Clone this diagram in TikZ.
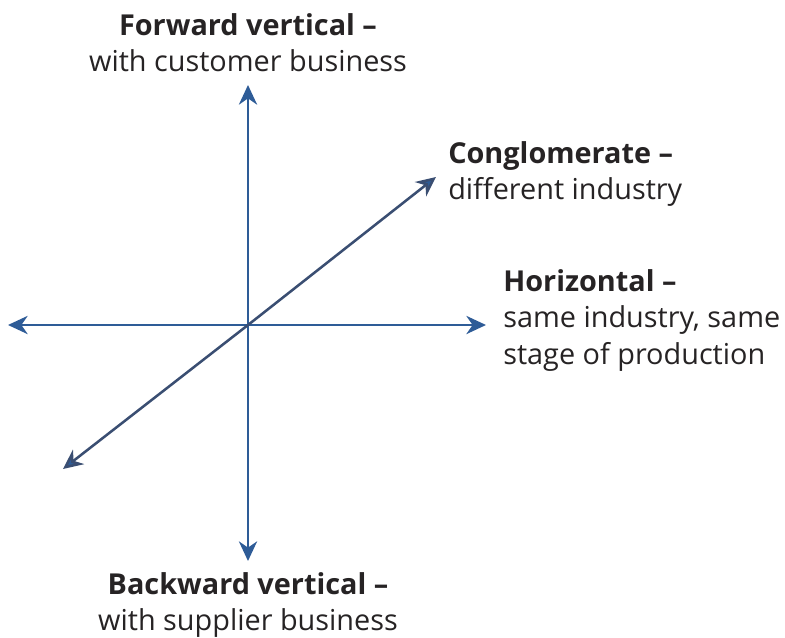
\documentclass[tikz,border=0pt]{standalone}
\usepackage{fontspec}
\setmainfont{Open Sans}
\usetikzlibrary{arrows.meta}
\definecolor{axisblue}{HTML}{2E5C97}
\definecolor{diagline}{HTML}{3A4E72}
\definecolor{labeltext}{HTML}{262324}
\begin{document}
\begin{tikzpicture}[x=0.025cm,y=-0.025cm,
    axis/.style={draw=axisblue, line width=1.4pt,
      -{Stealth[length=14pt,width=13pt,inset=4.5pt,fill=axisblue]}},
    diag/.style={axis, draw=diagline, line width=1.8pt},
    lbl/.style={text=labeltext, inner sep=0pt,
      font=\fontsize{20.5}{26}\selectfont}]
  \useasboundingbox (0,0) rectangle (785,638);
  % centre and arrow ends
  \coordinate (o) at (248,325);
  \coordinate (up) at (248,85);
  \coordinate (down) at (248,561);
  \coordinate (left) at (8,325);
  \coordinate (right) at (486,325);
  \coordinate (ne) at (436,177);
  \coordinate (sw) at (63,469);
  % labels
  \node[lbl, anchor=north, align=center] (forward) at (248,13)
    {\textbf{Forward vertical –}\\with customer business};
  \node[lbl, anchor=north west, align=left] (conglo) at (448,141)
    {\textbf{Conglomerate –}\\different industry};
  \node[lbl, anchor=north west, align=left] (horiz) at (503,269)
    {\textbf{Horizontal –}\\same industry, same\\stage of production};
  \node[lbl, anchor=north, align=center] (backward) at (248,572)
    {\textbf{Backward vertical –}\\with supplier business};
  % arrows
  \draw[axis] (o) -- (up);
  \draw[axis] (o) -- (down);
  \draw[axis] (o) -- (left);
  \draw[axis] (o) -- (right);
  \draw[diag] (o) -- (ne);
  \draw[diag] (o) -- (sw);
\end{tikzpicture}
\end{document}
